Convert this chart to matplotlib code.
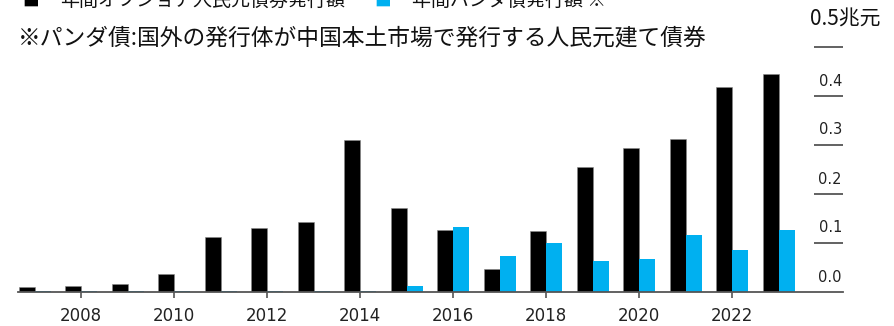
import numpy as np
import matplotlib
matplotlib.use("Agg")
import matplotlib.pyplot as plt

# data (兆元)
years = np.arange(2007, 2024)
offshore = [0.010, 0.012, 0.017, 0.037, 0.112, 0.130, 0.142, 0.311, 0.172,
            0.126, 0.047, 0.124, 0.256, 0.293, 0.313, 0.418, 0.444]
panda = [0.002, 0.002, 0.002, 0.002, 0.002, 0.002, 0.002, 0.003, 0.013,
         0.132, 0.073, 0.100, 0.063, 0.067, 0.116, 0.086, 0.126]
xticks = [2008, 2010, 2012, 2014, 2016, 2018, 2020, 2022]
yticks = [0.0, 0.1, 0.2, 0.3, 0.4]
yticklabels = ["0.0", "0.1", "0.2", "0.3", "0.4"]

legend1 = "年間オフショア人民元債券発行額"
legend2 = "年間パンダ債発行額 ※"
note = "※パンダ債:国外の発行体が中国本土市場で発行する人民元建て債券"
unit = "0.5兆元"

black = "#000000"
blue = "#00b0f0"
jp = ["Noto Sans CJK JP", "DejaVu Sans"]
num = ["DejaVu Sans"]

W, H = 895, 326
fig = plt.figure(figsize=(W / 100, H / 100), dpi=100)
ax = fig.add_axes([18 / W, 34 / H, 825 / W, 245 / H])

bw = 0.344
ax.bar(years - bw / 2, offshore, width=bw, color=black, edgecolor="#888888", linewidth=0.4)
ax.bar(years + bw / 2, panda, width=bw, color=blue, linewidth=0)

ax.set_xlim(2006.645, 2024.387)
ax.set_ylim(0, 0.5)

for s in ["top", "left", "right"]:
    ax.spines[s].set_visible(False)
ax.spines["bottom"].set_color("#555555")
ax.spines["bottom"].set_linewidth(1.3)

ax.set_yticks([])
ax.set_xticks(xticks)
ax.set_xticklabels([str(y) for y in xticks], family=num, fontsize=12, color="#222222")
ax.tick_params(axis="x", length=4, width=1.2, color="#555555", pad=7)

# short gridlines on the right with labels above them
tr = ax.get_yaxis_transform()
ax.hlines(yticks[1:] + [0.5], 0.965, 1.0, transform=tr, color="#555555", linewidth=1.3,
          clip_on=False)
for v, lab in zip(yticks, yticklabels):
    ax.annotate(lab, xy=(1.0, v), xycoords=tr, xytext=(-1, 15), textcoords="offset pixels",
                ha="right", va="center", fontsize=10.5, family=num, color="#222222")
fig.text(845 / W, 1 - 20 / H, unit, ha="center", va="center", fontsize=15, family=jp,
         color="#111111")

# legend (cut at top) and note
fig.text(22 / W, 1 - 1 / H, "■", ha="left", va="center", fontsize=12, family=jp, color=black)
fig.text(60 / W, 1 - 0 / H, legend1, ha="left", va="center", fontsize=13.7, family=jp,
         color="#111111")
fig.text(374 / W, 1 - 1 / H, "■", ha="left", va="center", fontsize=12, family=jp, color=blue)
fig.text(412 / W, 1 - 0 / H, legend2, ha="left", va="center", fontsize=13.7, family=jp,
         color="#111111")
fig.text(18 / W, 1 - 38 / H, note, ha="left", va="center", fontsize=16.4, family=jp,
         color="#111111")

fig.savefig("out.png", dpi=100)
